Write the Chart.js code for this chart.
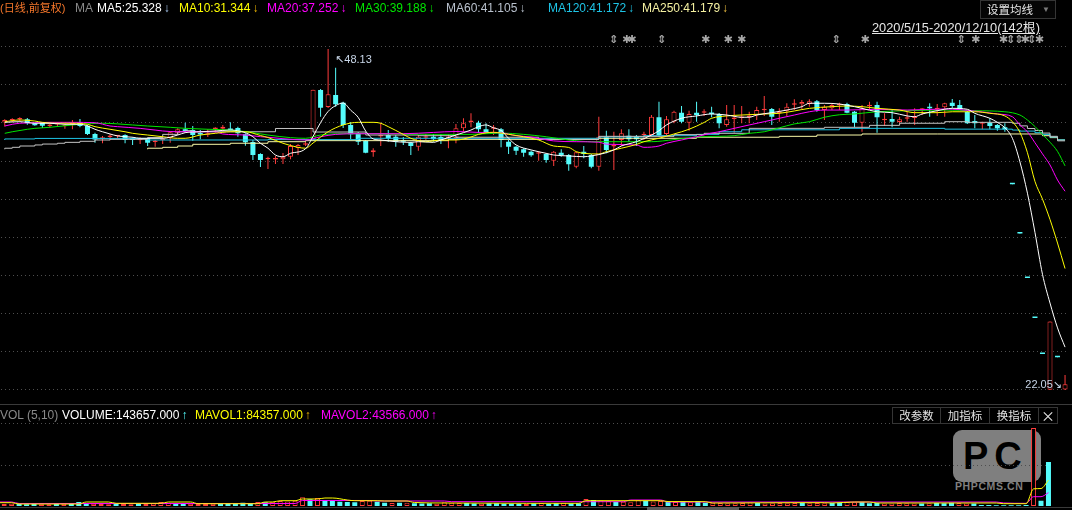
<!DOCTYPE html>
<html>
<head>
<meta charset="utf-8">
<title>日线</title>
<script src="https://cdn.jsdelivr.net/npm/chart.js@4.4.1/dist/chart.umd.min.js"></script>
<style>
  html, body { margin: 0; padding: 0; background: #000; }
  body { position: relative; width: 1072px; height: 510px; overflow: hidden;
         font-family: "Liberation Sans", Arial, "Noto Sans CJK SC", sans-serif; font-size: 12px; }
  canvas { position: absolute; }
  #kCanvas { left: 0; top: 0; }
  #vCanvas { left: -7px; top: 405px; }
  .t { position: absolute; white-space: nowrap; line-height: 14px; }
  .a { margin-left: 2px; }
  .btn { position: absolute; top: 407px; height: 17px; border: 1px solid #353535; box-sizing: border-box;
         color: #e2e2e2; font: 11.5px "Noto Sans CJK SC", sans-serif; line-height: 15px; text-align: center; background: #000; }
</style>
</head>
<body>

<div style="position:absolute;left:953px;top:430px;width:88px;height:52px;background:#7f7f7f;border-radius:9px;overflow:hidden">
  <div style="position:absolute;left:10px;top:5px;font:bold 38px 'Liberation Sans';letter-spacing:6px;color:#000">PC</div>
</div>
<div class="t" style="left:955px;top:480px;font:bold 10.5px 'Liberation Sans';letter-spacing:0.6px;color:#7f7f7f">PHPCMS.CN</div>

<canvas id="kCanvas" width="1072" height="405"></canvas>
<canvas id="vCanvas" width="1060" height="105"></canvas>

<!-- 上方均线图例 -->
<span class="t" style="left:0;top:1px;font-size:11px;color:#f4762a">(日线,前复权)</span>
<span class="t" style="left:75px;top:1px;color:#8a8a8a">MA</span>
<span class="t" style="left:97px;top:1px;color:#ffffff">MA5:25.328<span class="a" style="color:#a8c8f0">↓</span></span>
<span class="t" style="left:179px;top:1px;color:#ffff00">MA10:31.344<span class="a" style="color:#f0b800">↓</span></span>
<span class="t" style="left:267px;top:1px;color:#ff00ff">MA20:37.252<span class="a">↓</span></span>
<span class="t" style="left:355px;top:1px;color:#00e600">MA30:39.188<span class="a">↓</span></span>
<span class="t" style="left:446px;top:1px;color:#b8c0cc">MA60:41.105<span class="a">↓</span></span>
<span class="t" style="left:548px;top:1px;color:#1ec4e6">MA120:41.172<span class="a">↓</span></span>
<span class="t" style="left:642px;top:1px;color:#f4f0a0">MA250:41.179<span class="a" style="color:#f0c040">↓</span></span>

<div style="position:absolute;left:980px;top:0;width:76px;height:19px;border:1px solid #353535;box-sizing:border-box;background:#050505"></div>
<span class="t" style="left:987px;top:2px;font:11.5px 'Noto Sans CJK SC';line-height:15px;color:#e6e6e6">设置均线</span>
<span class="t" style="left:1042px;top:3px;font-size:8px;color:#7a7a7a">▼</span>
<span class="t" style="left:872px;top:21px;font-size:12.8px;color:#e6e6e6;text-decoration:underline">2020/5/15-2020/12/10(142根)</span>

<!-- 分隔线 / 底线 -->
<div style="position:absolute;left:0;top:404px;width:1072px;height:1px;background:#3a3a3a"></div>
<div style="position:absolute;left:0;top:507px;width:1072px;height:1px;background:#3a3a3a"></div>
<div style="position:absolute;left:647px;top:507px;width:92px;height:3px;background:#5a5a5a"></div>

<!-- 成交量图例 -->
<span class="t" style="left:0;top:408px;color:#8a8a8a">VOL (5,10)</span>
<span class="t" style="left:62px;top:408px;color:#ffffff">VOLUME:143657.000<span class="a" style="color:#54fcfc">↑</span></span>
<span class="t" style="left:195px;top:408px;color:#ffff00">MAVOL1:84357.000<span class="a" style="color:#f0b800">↑</span></span>
<span class="t" style="left:321px;top:408px;color:#ff00ff">MAVOL2:43566.000<span class="a">↑</span></span>

<div class="btn" style="left:892px;width:49px">改参数</div>
<div class="btn" style="left:940px;width:50px">加指标</div>
<div class="btn" style="left:989px;width:50px">换指标</div>
<div class="btn" style="left:1038px;width:20px;font-size:14px;line-height:14px">×</div>

<script>
// K线数据 (前复权) 2020/5/15 - 2020/12/10
const opens = [
  42.51,42.66,42.74,42.75,42.45,42.49,42.24,42.35,42.22,42.35,
  42.49,42.26,41.63,41.27,41.40,41.45,41.55,41.30,41.15,41.30,
  41.02,41.15,41.30,41.68,41.99,41.93,41.68,41.58,42.01,42.03,
  42.03,42.09,41.61,41.02,40.10,39.69,39.67,39.69,39.89,40.56,
  40.81,41.17,44.99,43.69,44.61,44.02,42.32,41.71,41.09,40.23,
  41.44,41.55,41.42,41.12,40.96,40.66,41.35,41.42,41.40,41.32,
  41.32,42.06,42.55,42.49,41.99,42.03,41.99,41.04,40.66,40.46,
  40.28,40.12,40.10,39.59,40.20,40.02,39.13,40.28,40.02,39.13,
  41.38,40.67,41.17,41.50,41.42,41.53,41.55,42.91,41.63,42.57,
  43.26,42.49,43.26,43.26,43.26,43.16,42.32,42.78,42.85,42.93,
  43.08,43.44,43.54,43.24,43.41,43.87,43.90,43.92,44.13,43.46,
  43.59,43.82,43.92,43.33,42.49,43.75,43.85,42.68,42.78,42.55,
  42.80,42.85,43.49,43.72,43.52,43.67,44.02,43.85,43.33,42.62,
  42.42,42.49,42.32,42.14,37.79,34.01,30.61,27.55,24.80,22.06,
  24.55,22.08
];
const highs = [
  42.75,42.83,42.91,42.85,42.47,42.52,42.42,42.49,42.39,42.70,
  42.78,42.32,41.73,41.48,41.61,41.55,41.61,41.38,41.38,41.35,
  41.17,41.35,41.80,42.06,42.49,42.24,41.93,41.99,42.14,42.32,
  42.52,42.19,41.68,41.17,40.15,39.89,39.95,40.18,40.86,40.86,
  41.02,45.01,45.07,48.13,46.70,44.10,42.55,41.78,41.17,40.54,
  42.49,41.93,41.55,41.40,41.04,41.55,41.63,41.63,41.63,41.63,
  42.39,42.83,43.21,42.65,42.45,42.32,42.09,41.17,40.71,40.54,
  40.35,40.33,40.15,40.33,40.46,40.10,40.28,40.71,40.10,42.95,
  41.88,41.80,41.99,41.99,41.55,41.80,43.08,44.10,43.01,43.41,
  43.77,43.41,44.10,43.52,43.72,43.24,43.85,43.85,43.77,43.33,
  43.72,44.54,43.62,43.59,43.98,44.28,44.23,44.28,44.23,43.85,
  43.98,44.02,44.02,43.39,43.85,44.10,44.10,43.21,43.46,42.95,
  43.33,43.59,43.59,43.98,43.92,44.02,44.31,44.23,43.39,43.08,
  42.57,42.83,42.39,42.45,37.79,34.01,30.61,27.55,24.80,27.28,
  24.55,23.20
];
const lows = [
  42.20,42.52,42.57,42.34,42.26,42.09,42.11,42.19,42.03,41.99,
  42.14,41.55,40.96,40.92,41.15,41.30,40.92,40.79,40.86,40.71,
  40.66,40.86,40.96,41.55,41.73,41.12,41.22,41.40,41.73,41.80,
  41.88,41.42,40.73,39.64,39.10,38.95,39.33,39.33,39.69,40.02,
  40.71,41.13,42.95,43.62,43.72,42.09,41.25,40.79,40.15,39.89,
  40.71,41.04,40.66,40.79,40.02,40.35,41.17,41.04,40.86,40.54,
  40.92,41.80,42.14,41.73,41.68,41.55,40.61,40.10,40.02,39.89,
  39.89,39.59,39.43,39.18,39.89,38.82,39.01,39.77,39.01,38.82,
  40.15,38.88,40.71,41.04,40.71,41.17,41.48,41.42,41.55,42.45,
  42.45,41.88,42.57,43.01,42.91,42.06,42.19,41.73,42.45,42.45,
  42.70,43.01,42.32,42.57,43.01,43.46,43.52,43.72,43.33,42.70,
  43.46,43.46,43.21,42.14,41.80,43.46,41.73,42.24,42.14,42.45,
  42.57,42.32,43.08,42.95,43.01,42.95,43.59,43.46,42.39,42.06,
  41.99,41.99,41.88,41.80,37.79,34.01,30.61,27.55,24.80,22.05,
  24.55,22.05
];
const closes = [
  42.70,42.71,42.78,42.45,42.29,42.26,42.28,42.38,42.26,42.39,
  42.24,41.63,41.21,41.32,41.44,41.49,41.17,41.17,41.19,40.96,
  41.06,41.19,41.76,41.99,41.86,41.55,41.59,41.63,42.05,42.19,
  41.93,41.68,40.99,40.02,39.64,39.74,39.72,39.89,40.71,40.79,
  40.92,45.01,43.64,44.67,43.90,42.32,41.61,41.04,40.20,40.38,
  41.51,41.30,41.04,41.04,40.71,41.42,41.40,41.22,41.17,41.36,
  42.06,42.45,42.60,41.99,41.73,42.09,41.17,40.66,40.35,40.20,
  40.00,40.18,39.64,40.28,40.00,39.31,40.23,40.10,39.13,41.42,
  40.41,40.73,41.68,41.22,41.22,41.58,42.95,41.55,42.75,43.33,
  42.57,43.16,43.08,43.31,43.16,42.45,42.75,42.83,42.91,42.98,
  43.46,43.49,42.95,43.29,43.72,43.92,44.08,44.13,43.46,43.72,
  43.85,43.87,43.26,42.49,43.59,43.79,42.91,42.72,42.57,42.75,
  42.85,42.91,43.54,43.59,43.56,43.98,43.77,43.52,42.45,42.45,
  42.47,42.24,42.06,41.99,37.79,34.01,30.61,27.55,24.80,27.28,
  24.55,22.49
];
const volumes = [
  8200,6500,7200,6800,5900,7400,6100,5600,6300,7000,
  9800,13000,9500,7200,6600,6100,7800,6900,6000,7300,
  6800,8400,13000,10500,8800,9200,7500,6800,6200,7000,
  6400,7100,8500,11000,9600,13000,12000,13500,16000,15000,
  17000,28400,22000,26100,19600,16300,14000,13000,12500,16300,
  17300,13500,11000,9800,10500,10800,8800,8200,9000,7500,
  12000,11000,10000,9800,8000,7500,9200,8800,7600,7000,
  7200,6500,8100,9500,7000,8800,10500,8200,9000,22900,
  19600,18000,16000,14000,13500,12000,19000,17500,15000,16300,
  14000,13000,13500,12000,16300,11000,10500,9800,9000,8800,
  10000,11500,9800,8500,9200,9800,8800,9500,10500,9000,
  9800,9200,9800,11000,13000,12000,13000,9000,9500,8200,
  8000,9500,8800,8000,7800,9000,9800,8600,11000,9500,
  7800,8500,3500,3200,2600,2300,2275,2800,3328,255000,
  17000,143657
];

// 均线 (读图取点: [序号, 值])
const ma5 = [[0,42.52],[2,42.57],[4,42.45],[6,42.45],[8,42.37],[10,42.37],[11,42.24],[12,41.99],[13,41.80],[14,41.63],
  [15,41.48],[17,41.38],[18,41.30],[21,41.30],[23,41.55],[24,41.73],[26,41.80],[28,41.86],[30,41.93],[32,41.73],
  [33,41.42],[34,40.92],[35,40.54],[36,40.02],[37,39.89],[38,40.15],[40,40.50],[41,41.45],[42,42.50],[43,43.35],
  [44,43.80],[45,44.00],[46,43.45],[47,42.90],[48,41.85],[49,41.25],[50,41.17],[52,41.04],[54,40.99],[55,41.04],
  [57,40.99],[58,41.17],[60,41.55],[62,41.93],[63,42.19],[64,42.32],[65,42.10],[66,41.90],[67,41.30],[68,40.79],
  [70,40.41],[72,40.15],[73,40.02],[75,39.95],[77,39.89],[78,39.95],[80,40.20],[81,40.41],[82,40.71],[84,41.04],
  [86,41.55],[87,41.88],[88,42.32],[90,42.83],[92,43.01],[94,43.16],[96,43.08],[98,42.91],[99,42.91],[100,43.08],
  [102,43.26],[104,43.46],[106,43.72],[107,43.98],[109,43.98],[111,43.92],[113,43.72],[114,43.59],[116,43.33],[118,43.26],
  [120,43.01],[121,42.95],[122,43.16],[124,43.41],[126,43.59],[128,43.52],[129,43.21],[131,42.83],[132,42.52],[133,42.10],
  [134,41.30],[135,39.50],[136,37.10],[137,34.10],[138,30.90],[139,28.70],[140,26.80],[141,25.33]];
const ma10 = [[0,42.57],[2,42.70],[4,42.62],[5,42.52],[7,42.45],[9,42.45],[11,42.37],[12,42.19],[14,41.99],[16,41.80],
  [17,41.68],[19,41.55],[21,41.42],[23,41.30],[24,41.30],[26,41.55],[28,41.68],[30,41.80],[32,41.80],[34,41.51],
  [35,41.36],[37,40.92],[39,40.61],[40,40.54],[41,40.94],[43,41.80],[45,42.32],[47,42.52],[49,42.52],[50,42.45],
  [51,42.19],[53,41.60],[54,41.30],[56,41.04],[58,41.17],[60,41.17],[62,41.40],[63,41.60],[65,41.76],[67,41.60],
  [69,41.42],[71,41.17],[73,40.71],[75,40.60],[76,40.28],[77,40.15],[79,40.10],[80,40.28],[82,40.54],[84,40.83],
  [85,41.04],[87,41.30],[89,41.63],[91,41.99],[93,42.51],[94,42.83],[96,43.01],[98,43.08],[101,43.16],[103,43.21],
  [105,43.39],[107,43.59],[110,43.72],[112,43.77],[114,43.72],[116,43.59],[119,43.46],[121,43.26],[124,43.26],[126,43.33],
  [129,43.33],[131,43.21],[133,43.01],[134,42.57],[135,41.75],[136,40.20],[137,38.00],[138,36.65],[139,35.09],[140,33.29],
  [141,31.34]];
const ma20 = [[0,42.24],[1,42.37],[2,42.45],[4,42.49],[6,42.52],[9,42.52],[12,42.49],[14,42.24],[15,42.19],[18,42.06],
  [20,41.93],[21,41.86],[23,41.80],[28,41.80],[29,41.63],[32,41.55],[34,41.42],[35,41.38],[37,41.27],[40,41.17],
  [42,41.42],[44,41.60],[47,41.65],[53,41.65],[57,41.75],[60,41.82],[63,41.75],[66,41.72],[68,41.50],[70,41.40],
  [73,41.10],[76,41.04],[79,41.00],[80,40.85],[84,40.79],[85,40.61],[87,40.71],[88,40.92],[90,41.17],[92,41.42],
  [94,41.70],[95,41.80],[97,42.06],[99,42.32],[101,42.57],[103,42.83],[105,43.08],[107,43.33],[109,43.46],[112,43.46],
  [116,43.52],[120,43.46],[125,43.54],[129,43.38],[132,43.16],[134,42.95],[135,42.32],[136,41.80],[137,40.96],[138,40.11],
  [139,39.26],[140,38.11],[141,37.25]];
const ma30 = [[0,41.68],[1,41.80],[3,41.99],[4,42.06],[6,42.14],[10,42.37],[13,42.45],[17,42.32],[19,42.24],[22,42.14],
  [24,42.06],[27,41.99],[30,41.93],[33,41.73],[35,41.55],[38,41.35],[40,41.30],[42,41.55],[45,41.65],[50,41.65],
  [57,41.60],[62,41.60],[66,41.70],[69,41.60],[72,41.42],[75,41.17],[78,41.04],[86,41.04],[89,41.20],[92,41.40],
  [95,41.45],[97,41.50],[99,41.68],[101,41.80],[103,42.10],[105,42.40],[107,42.57],[109,42.91],[111,43.10],[113,43.16],
  [116,43.33],[120,43.41],[125,43.46],[129,43.41],[133,43.33],[135,43.08],[136,42.70],[137,42.20],[138,41.60],[139,41.00],
  [140,40.30],[141,39.19]];
const ma60 = [[0,40.46],[1,40.54],[2,40.61],[4,40.71],[5,40.79],[7,40.86],[8,40.92],[10,40.99],[12,41.07],[14,41.17],
  [19,41.22],[21,41.35],[23,41.60],[24,41.80],[25,41.88],[36,41.80],[41,42.05],[48,41.78],[55,41.55],[60,41.50],
  [71,41.38],[79,41.22],[89,41.45],[93,41.58],[99,41.68],[109,42.06],[115,42.14],[119,42.29],[125,42.45],[128,42.57],
  [134,42.52],[135,42.45],[136,42.25],[137,42.05],[138,41.90],[139,41.70],[140,41.45],[141,41.105]];
const ma120 = [[0,41.17],[4,41.25],[19,41.29],[35,41.17],[47,41.20],[79,41.30],[85,41.40],[92,41.50],[95,41.60],[98,41.80],
  [111,41.95],[125,42.06],[134,42.00],[135,41.93],[137,41.85],[138,41.73],[139,41.60],[140,41.40],[141,41.172]];
const ma250 = [[19,40.46],[21,40.54],[23,40.61],[25,40.71],[30,40.84],[35,40.92],[40,41.04],[59,41.12],[79,41.22],[92,41.30],
  [103,41.38],[108,41.45],[114,41.55],[124,41.63],[138,41.63],[139,41.50],[140,41.35],[141,41.179]];

// 成交量均线 (读图取点)
const mavol1 = [[0,10770],[2,10770],[3,6530],[11,6530],[12,13060],[15,13060],[16,8820],[22,8820],[23,13060],[26,13060],
  [27,7510],[35,7510],[36,13060],[37,13060],[38,17300],[40,17300],[41,22860],[43,22860],[44,26120],[45,26120],
  [47,19590],[48,17300],[51,17300],[52,16330],[55,16330],[56,11400],[60,9800],[71,8820],[78,8820],[79,17300],
  [89,17300],[90,14500],[95,14040],[96,9800],[107,10770],[111,10770],[112,9800],[115,13060],[117,13060],[118,9800],
  [134,9800],[135,7510],[138,7510],[139,56000],[140,57000],[141,84357]];
const mavol2 = [[0,13060],[2,13060],[3,8200],[40,8200],[41,17960],[50,17960],[51,16330],[60,16330],[61,14040],[84,14040],
  [85,19590],[89,19590],[90,13060],[134,13060],[135,9800],[138,8800],[139,30400],[140,30400],[141,43566]];

// 信息地雷标记
const markIdx = [81, 82.7, 83.4, 87.4, 93.2, 96.2, 98, 110.6, 114.4, 127.2, 129.1, 132.8, 133.8, 134.9, 135.7, 136.6, 137.6];
const markSym = ['⇕','✱','✱','⇕','✱','✱','✱','⇕','✱','⇕','✱','✱','⇕','⇕','✱','⇕','✱'];

const priceGrid = [22.05, 24.97, 27.89, 30.81, 33.73, 36.65, 39.56, 42.48, 45.40, 48.32];
const volGrid = [132890, 267730];

const UP = '#ff3c3c', DOWN = '#54fcfc';
const idx = opens.map((_, i) => i);
const prevClose = i => (i > 0 ? closes[i - 1] : opens[i]);
const isUp = i => closes[i] > opens[i] || (closes[i] === opens[i] && closes[i] >= prevClose(i));
const volUp = i => closes[i] >= prevClose(i);
const pts = arr => arr.map(([x, y]) => ({ x, y }));

function maLine(label, pairs, color, stepped) {
    return {
        type: 'line', label, data: pts(pairs),
        borderColor: color, borderWidth: 1, pointRadius: 0, fill: false,
        stepped: stepped ? 'after' : false,
        cubicInterpolationMode: 'monotone',
        order: 1
    };
}

const hiddenGrid = (ticks) => ({
    afterBuildTicks: axis => { axis.ticks = ticks.map(v => ({ value: v })); },
    ticks: { display: false },
    grid: { color: '#4e4e4e', lineWidth: 1, drawTicks: false },
    border: { display: false, dash: [1, 3] }
});

// 标记 / 最高最低价
const annotPlugin = {
    id: 'annot',
    afterDraw(chart) {
        const { ctx, scales: { x, y } } = chart;
        ctx.save();
        ctx.font = 'bold 11px "DejaVu Sans"';
        ctx.fillStyle = '#a8a8a8';
        ctx.textAlign = 'center';
        ctx.textBaseline = 'middle';
        markIdx.forEach((m, k) => ctx.fillText(markSym[k], x.getPixelForValue(m), 40));

        const hiI = highs.indexOf(Math.max(...highs));
        const loI = lows.lastIndexOf(Math.min(...lows));
        ctx.font = '11px "Liberation Sans", "DejaVu Sans"';
        ctx.fillStyle = '#c8d6e8';
        ctx.textAlign = 'left';
        ctx.fillText('↖' + highs[hiI].toFixed(2), x.getPixelForValue(hiI) + 7, y.getPixelForValue(highs[hiI]) + 11);
        ctx.textAlign = 'right';
        ctx.fillText(lows[loI].toFixed(2) + '↘', x.getPixelForValue(loI) - 3, y.getPixelForValue(lows[loI]) - 5);
        ctx.restore();
    }
};

// 主图 K线
new Chart(document.getElementById('kCanvas'), {
    type: 'bar',
    data: {
        datasets: [
            maLine('MA5', ma5, '#ffffff'),
            maLine('MA10', ma10, '#ffff00'),
            maLine('MA20', ma20, '#ff00ff'),
            maLine('MA30', ma30, '#00e600'),
            maLine('MA60', ma60, '#c4c4c4', true),
            maLine('MA120', ma120, '#1ec4e6', true),
            maLine('MA250', ma250, '#fafaa8', true),
            {
                label: 'body',
                data: idx.map(i => ({ x: i, y: [opens[i], closes[i]] })),
                grouped: false, barThickness: 5, minBarLength: 1.5, inflateAmount: 0,
                borderSkipped: false,
                borderWidth: c => (isUp(c.dataIndex) ? 1 : 0),
                borderColor: c => (isUp(c.dataIndex) ? UP : DOWN),
                backgroundColor: c => (isUp(c.dataIndex) ? '#000000' : DOWN),
                order: 2
            },
            {
                label: 'wick',
                data: idx.map(i => ({ x: i, y: [lows[i], highs[i]] })),
                grouped: false, barThickness: 1, minBarLength: 1, inflateAmount: 0,
                borderWidth: 0,
                backgroundColor: c => (isUp(c.dataIndex) ? UP : DOWN),
                order: 3
            }
        ]
    },
    options: {
        responsive: false,
        animation: false,
        devicePixelRatio: 1,
        layout: { padding: { left: 1, right: 3.2, top: 20, bottom: 5 } },
        plugins: { legend: { display: false }, tooltip: { enabled: false } },
        scales: {
            x: { type: 'linear', min: -0.5, max: 141.5, offset: false, display: false },
            y: Object.assign({ min: 21.285, max: 50.347 }, hiddenGrid(priceGrid))
        }
    },
    plugins: [annotPlugin]
});

// 副图 成交量
new Chart(document.getElementById('vCanvas'), {
    type: 'bar',
    data: {
        datasets: [
            maLine('MAVOL1', mavol1, '#ffff00'),
            maLine('MAVOL2', mavol2, '#ff00ff'),
            {
                label: 'VOLUME',
                data: idx.map(i => ({ x: i, y: volumes[i] })),
                grouped: false, barThickness: 5, inflateAmount: 0,
                borderSkipped: false,
                borderWidth: c => (volUp(c.dataIndex) ? 1 : 0),
                borderColor: c => (volUp(c.dataIndex) ? UP : DOWN),
                backgroundColor: c => (volUp(c.dataIndex) ? '#000000' : DOWN),
                order: 2
            }
        ]
    },
    options: {
        responsive: false,
        animation: false,
        devicePixelRatio: 1,
        layout: { padding: { left: 0, right: 0.8, top: 15, bottom: 4 } },
        plugins: { legend: { display: false }, tooltip: { enabled: false } },
        scales: {
            x: { type: 'linear', min: -0.5, max: 141.5, offset: false, display: false },
            y: Object.assign({ min: 0, max: 280790 }, hiddenGrid(volGrid))
        }
    }
});
</script>
</body>
</html>
